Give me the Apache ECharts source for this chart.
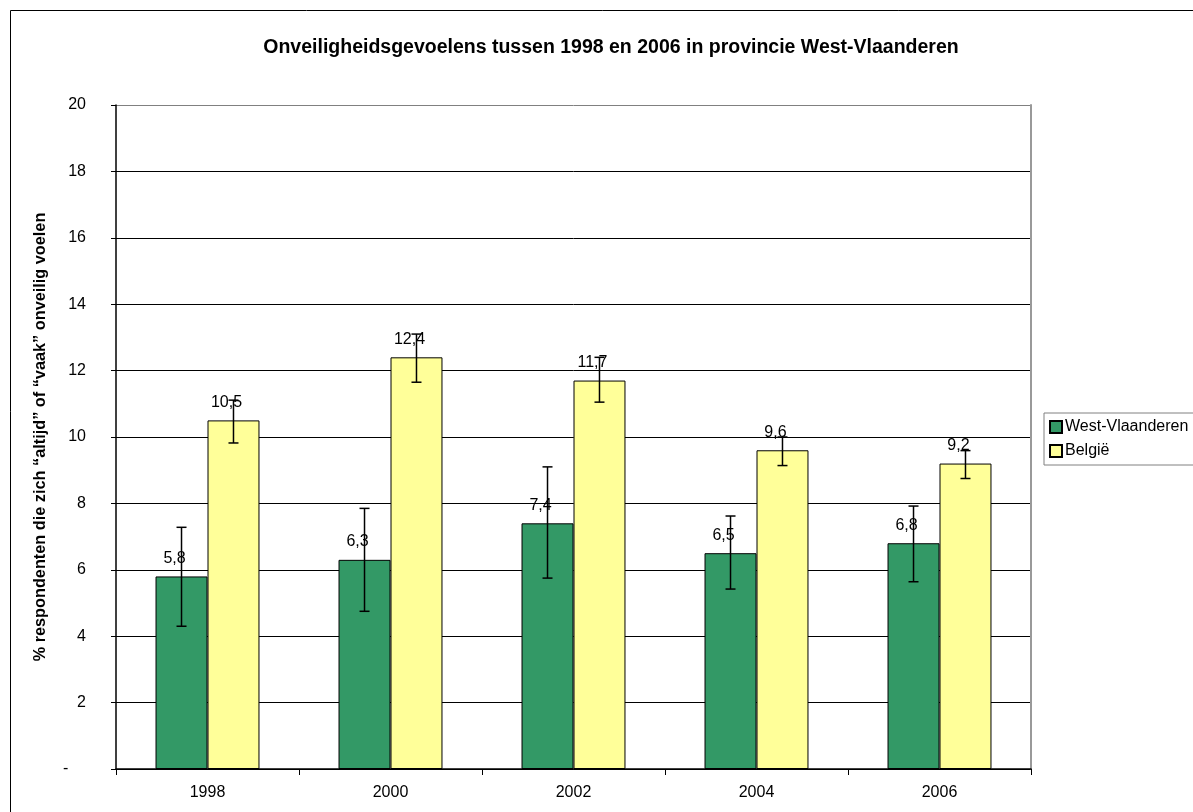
<!DOCTYPE html>
<html>
<head>
<meta charset="utf-8">
<script src="https://cdn.jsdelivr.net/npm/echarts@6/dist/echarts.min.js"></script>
<style>
    html, body { margin: 0; padding: 0; background: #fff; }
    #chart { width: 1193px; height: 812px; }
</style>
</head>
<body>
<div id="chart"></div>
<script>
// jaren
var years = ['1998', '2000', '2002', '2004', '2006'];
// West-Vlaanderen
var westVl = [5.8, 6.3, 7.4, 6.5, 6.8];
var westVlLow = [4.3, 4.75, 5.75, 5.42, 5.64];
var westVlHigh = [7.28, 7.85, 9.1, 7.62, 7.92];
// België
var belgie = [10.5, 12.4, 11.7, 9.6, 9.2];
var belgieLow = [9.82, 11.65, 11.05, 9.14, 8.75];
var belgieHigh = [11.11, 13.1, 12.4, 10.0, 9.59];
var yTicks = [0, 2, 4, 6, 8, 10, 12, 14, 16, 18, 20];

var font = 'Liberation Sans, Arial, sans-serif';
var barRatio = 0.284;

function errorBars (low, high, side) {
    return {
        type: 'custom',
        silent: true,
        z: 10,
        data: low.map(function (v, i) { return [i, v, high[i]]; }),
        renderItem: function (params, api) {
            var band = api.size([1, 0])[0];
            var dx = side * band * barRatio / 2;
            var p1 = api.coord([api.value(0), api.value(1)]);
            var p2 = api.coord([api.value(0), api.value(2)]);
            var x = p1[0] + dx;
            var style = {stroke: '#000', lineWidth: 1.5};
            return {
                type: 'group',
                children: [
                    {type: 'line', shape: {x1: x, y1: p1[1], x2: x, y2: p2[1]}, style: style},
                    {type: 'line', shape: {x1: x - 5, y1: p1[1], x2: x + 5, y2: p1[1]}, style: style},
                    {type: 'line', shape: {x1: x - 5, y1: p2[1], x2: x + 5, y2: p2[1]}, style: style}
                ]
            };
        }
    };
}

var labelStyle = {
    show: true,
    position: 'top',
    distance: 10,
    offset: [-7, 0],
    color: '#000',
    fontFamily: font,
    fontSize: 16,
    formatter: function (p) { return String(p.value).replace('.', ','); }
};

var gridColors = yTicks.map(function (t) { return t === 20 ? '#808080' : '#000'; });

var myChart = echarts.init(document.getElementById('chart'));
myChart.setOption({
    animation: false,
    backgroundColor: '#fff',
    textStyle: {fontFamily: font},
    title: {
        text: 'Onveiligheidsgevoelens tussen 1998 en 2006 in provincie West-Vlaanderen',
        left: 606,
        textAlign: 'center',
        top: 33,
        textStyle: {fontFamily: font, fontSize: 19.5, fontWeight: 'bold', color: '#000'}
    },
    graphic: [{
        type: 'rect',
        shape: {x: 10.5, y: 10.5, width: 1400, height: 1000},
        style: {fill: 'none', stroke: '#000', lineWidth: 1},
        silent: true
    }],
    legend: {
        orient: 'vertical',
        left: 1044,
        top: 413,
        itemWidth: 12,
        itemHeight: 12,
        itemGap: 8,
        padding: [6, 40, 6, 5],
        borderColor: '#808080',
        borderWidth: 1,
        icon: 'rect',
        textStyle: {fontFamily: font, fontSize: 16, color: '#000', padding: [0, 0, 0, -2]},
        data: ['West-Vlaanderen', 'België']
    },
    grid: {
        left: 116,
        top: 105,
        right: 162,
        bottom: 43
    },
    xAxis: {
        type: 'category',
        data: years,
        axisLine: {lineStyle: {color: '#000', width: 1.5}},
        axisTick: {show: true, length: 6, lineStyle: {color: '#000'}},
        axisLabel: {color: '#000', fontFamily: font, fontSize: 16, margin: 16},
        splitLine: {show: false}
    },
    yAxis: [{
        type: 'value',
        min: 0,
        max: 20,
        interval: 2,
        name: '% respondenten die zich “altijd” of “vaak” onveilig voelen',
        nameLocation: 'middle',
        nameGap: 67,
        nameTextStyle: {fontFamily: font, fontSize: 16.3, fontWeight: 'bold', color: '#000'},
        axisLine: {show: true, lineStyle: {color: '#000', width: 1.5}},
        axisTick: {show: true, length: 5, lineStyle: {color: '#000'}},
        axisLabel: {
            color: '#000',
            fontFamily: font,
            fontSize: 16,
            margin: 30,
            formatter: function (v) { return v === 0 ? '-    ' : String(v); }
        },
        splitLine: {show: true, lineStyle: {color: gridColors, width: 1}}
    }, {
        type: 'value',
        min: 0,
        max: 20,
        interval: 2,
        position: 'right',
        axisLine: {show: true, lineStyle: {color: '#999', width: 2}},
        axisTick: {show: false},
        axisLabel: {show: false},
        splitLine: {show: false}
    }],
    series: [{
        name: 'West-Vlaanderen',
        type: 'bar',
        data: westVl,
        barWidth: (barRatio * 100) + '%',
        barGap: '0%',
        itemStyle: {color: '#339966', borderColor: '#000', borderWidth: 1},
        label: labelStyle
    }, {
        name: 'België',
        type: 'bar',
        data: belgie,
        barWidth: (barRatio * 100) + '%',
        barGap: '0%',
        itemStyle: {color: '#FFFF99', borderColor: '#000', borderWidth: 1},
        label: labelStyle
    },
    errorBars(westVlLow, westVlHigh, -1),
    errorBars(belgieLow, belgieHigh, 1)
    ]
});
</script>
</body>
</html>
